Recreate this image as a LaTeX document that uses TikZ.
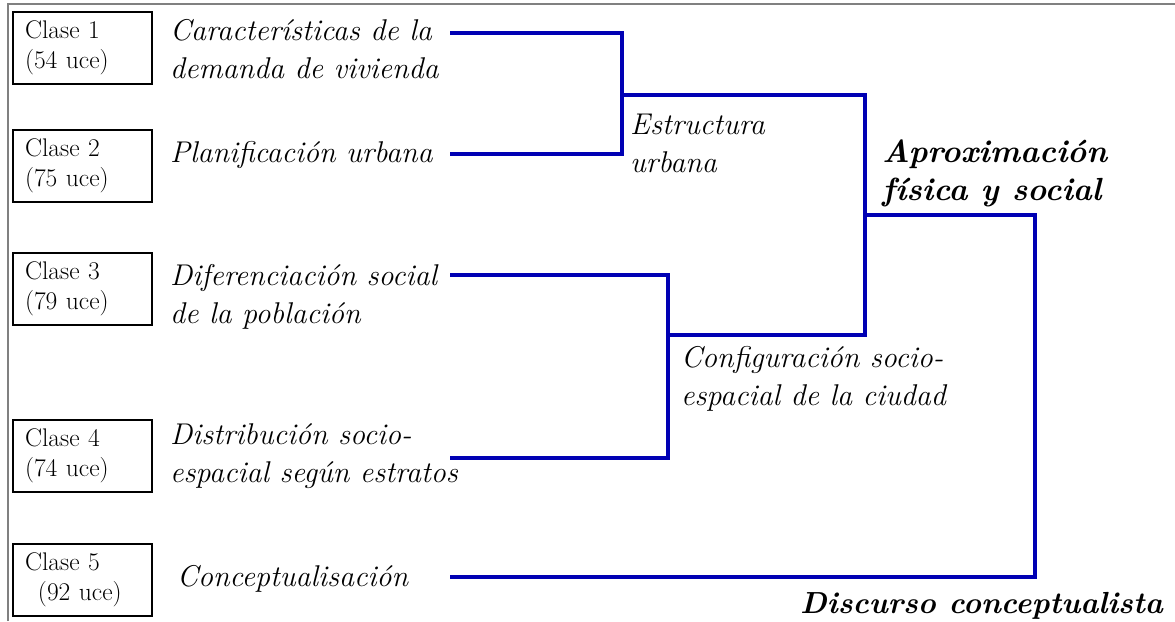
\documentclass[tikz,border=0pt]{standalone}
\definecolor{dendro}{RGB}{0,0,180}
\definecolor{frame}{RGB}{128,128,128}
\tikzset{
  x=1pt, y=-1pt,
  link/.style={draw=dendro, line width=4.6pt, line join=miter, line cap=butt},
  clasebox/.style={draw=black, line width=1.2pt, rectangle, minimum width=139pt, minimum height=72pt,
    text width=115pt, inner xsep=12pt, inner ysep=0pt, align=left,
    font=\fontsize{25.5}{30}\selectfont},
  theme/.style={anchor=base west, inner sep=0pt, align=left,
    font=\fontsize{30}{38}\selectfont\itshape},
  group/.style={anchor=base west, inner sep=0pt, align=left,
    font=\fontsize{30}{38}\selectfont\itshape},
  major/.style={anchor=base west, inner sep=0pt, align=left,
    font=\fontsize{32}{38}\selectfont\bfseries\itshape},
  rootlabel/.style={anchor=base west, inner sep=0pt,
    font=\fontsize{30.5}{38}\selectfont\bfseries\itshape},
}
\begin{document}
\begin{tikzpicture}
\useasboundingbox (0,0) rectangle (1175,621);
\fill[white] (0,0) rectangle (1175,621);
% frame
\draw[frame, line width=2pt] (8,621) -- (8,4) -- (1175,4);

% class boxes
\node[clasebox] (b1) at (82.5,48) {Clase 1\\(54 uce)};
\node[clasebox] (b2) at (82.5,166) {Clase 2\\(75 uce)};
\node[clasebox] (b3) at (82.5,289) {Clase 3\\(79 uce)};
\node[clasebox] (b4) at (82.5,456) {Clase 4\\(74 uce)};
\node[clasebox] (b5) at (82.5,580) {Clase 5\\\hspace*{13pt}(92 uce)};

% class themes (anchor = baseline of last line)
\node[theme] (t1) at (170,78) {Características de la\\demanda de vivienda};
\node[theme] (t2) at (170,162) {Planificación urbana};
\node[theme] (t3) at (170,323) {Diferenciación social\\de la población};
\node[theme] (t4) at (170,482) {Distribución socio-\\espacial según estratos};
\node[theme] (t5) at (177,586) {Conceptualisación};

% group labels
\node[group] (g12) at (630,172) {Estructura\\urbana};
\node[group] (g34) at (681,405) {Configuración socio-\\espacial de la ciudad};
\node[major] (g1234) at (882,200) {Aproximación\\física y social};
\node[rootlabel] (groot) at (800,613) {Discurso conceptualista};

% connector coordinates
\coordinate (e1) at (450,33);
\coordinate (e2) at (450,154);
\coordinate (e3) at (450,275);
\coordinate (e4) at (450,458);
\coordinate (e5) at (450,577);
\coordinate (m12) at (622,95);
\coordinate (m34) at (668,335);
\coordinate (m1234) at (865,215);
\coordinate (c5) at (1035,577);

% dendrogram
\draw[link] (e1) -| (m12) |- (e2);
\draw[link] (e3) -| (m34) |- (e4);
\draw[link] (m12) -| (m1234) |- (m34);
\draw[link] (m1234) -| (c5) -- (e5);
\end{tikzpicture}
\end{document}
